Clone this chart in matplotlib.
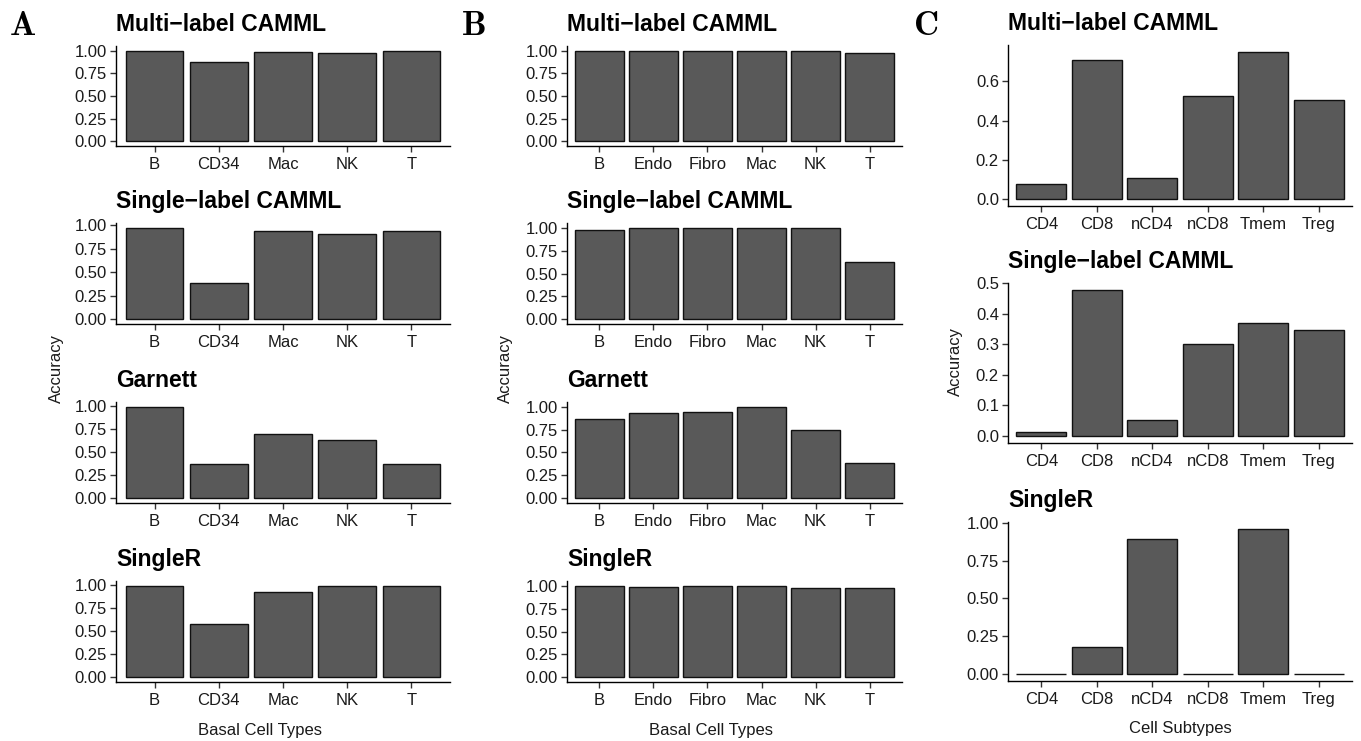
import matplotlib
matplotlib.use("Agg")
import matplotlib.pyplot as plt

# ---------------- data ----------------
cats_A = ["B", "CD34", "Mac", "NK", "T"]
A_multi = [1.00, 0.877, 0.989, 0.978, 0.993]
A_single = [0.975, 0.39, 0.943, 0.905, 0.940]
A_garnett = [0.995, 0.371, 0.698, 0.629, 0.378]
A_singler = [0.997, 0.575, 0.924, 0.996, 0.989]

cats_B = ["B", "Endo", "Fibro", "Mac", "NK", "T"]
B_multi = [1.00, 1.00, 1.00, 1.00, 1.00, 0.975]
B_single = [0.975, 1.00, 1.00, 0.993, 1.00, 0.624]
B_garnett = [0.869, 0.934, 0.938, 1.00, 0.748, 0.391]
B_singler = [0.996, 0.985, 1.00, 1.00, 0.978, 0.974]

cats_C = ["CD4", "CD8", "nCD4", "nCD8", "Tmem", "Treg"]
C_multi = [0.074, 0.711, 0.106, 0.525, 0.749, 0.507]
C_single = [0.013, 0.477, 0.052, 0.302, 0.369, 0.348]
C_singler = [0.0, 0.179, 0.892, 0.0, 0.960, 0.0]

titles_AB = ["Multi\u2212label CAMML", "Single\u2212label CAMML", "Garnett", "SingleR"]
titles_C = ["Multi\u2212label CAMML", "Single\u2212label CAMML", "SingleR"]

# ---------------- layout ----------------
W, H = 1361, 741
plt.rcParams['font.family'] = ['Liberation Sans', 'DejaVu Sans']
plt.rcParams['mathtext.fontset'] = 'cm'
fig = plt.figure(figsize=(W / 100, H / 100), dpi=100)

def add_ax(left, right, top, bottom):
    return fig.add_axes([left / W, 1 - bottom / H, (right - left) / W, (bottom - top) / H])

BAR = "#595959"
TXT = "#1a1a1a"

def draw(ax, cats, vals, title, yticks=None, fmt="{:.2f}"):
    x = list(range(len(cats)))
    ax.bar(x, vals, width=0.9, color=BAR, edgecolor="#111111", linewidth=1.0)
    ax.set_xlim(-0.6, len(cats) - 1 + 0.6)
    ymax = max(vals)
    ax.set_ylim(-0.05 * ymax, 1.05 * ymax)
    ax.set_xticks(x)
    ax.set_xticklabels(cats)
    if yticks is not None:
        ax.set_yticks(yticks)
        ax.set_yticklabels([fmt.format(t) for t in yticks])
    for s in ["top", "right"]:
        ax.spines[s].set_visible(False)
    for s in ["left", "bottom"]:
        ax.spines[s].set_linewidth(1.0)
        ax.spines[s].set_color("black")
    ax.tick_params(axis="both", length=4, width=1.0, color="#333333",
                   labelsize=12, labelcolor=TXT)
    ax.tick_params(axis="x", pad=4)
    ax.tick_params(axis="y", pad=2.5)
    ax.set_title(title, loc="left", fontsize=16.5, fontweight="bold", pad=11)

yt = [0.0, 0.25, 0.5, 0.75, 1.0]
rows_AB = [(46, 146), (223, 324), (402, 503), (581, 682)]

for (top, bot), vals, t in zip(rows_AB, [A_multi, A_single, A_garnett, A_singler], titles_AB):
    ax = add_ax(116, 450, top, bot)
    draw(ax, cats_A, vals, t, yt)

for (top, bot), vals, t in zip(rows_AB, [B_multi, B_single, B_garnett, B_singler], titles_AB):
    ax = add_ax(567, 902, top, bot)
    draw(ax, cats_B, vals, t, yt)

rows_C = [(45, 206), (283, 443), (522, 681)]
ax = add_ax(1008, 1352, *rows_C[0])
draw(ax, cats_C, C_multi, titles_C[0], [0.0, 0.2, 0.4, 0.6], "{:.1f}")
ax = add_ax(1008, 1352, *rows_C[1])
draw(ax, cats_C, C_single, titles_C[1], [0.0, 0.1, 0.2, 0.3, 0.4, 0.5], "{:.1f}")
ax = add_ax(1008, 1352, *rows_C[2])
draw(ax, cats_C, C_singler, titles_C[2], yt)

# axis labels
for xpix, ypix in [(56, 369), (505, 369), (955, 362)]:
    fig.text(xpix / W, 1 - ypix / H, "Accuracy", rotation=90, ha="center", va="center",
             fontsize=12, color=TXT)
fig.text(260 / W, 1 - 730 / H, "Basal Cell Types", ha="center", va="center", fontsize=12, color=TXT)
fig.text(711 / W, 1 - 730 / H, "Basal Cell Types", ha="center", va="center", fontsize=12, color=TXT)
fig.text(1180 / W, 1 - 729 / H, "Cell Subtypes", ha="center", va="center", fontsize=12, color=TXT)

# panel letters
for lx, letter in [(9, "A"), (461, "B"), (913, "C")]:
    fig.text(lx / W, 1 - 35 / H, r"$\mathbf{%s}$" % letter, ha="left", va="baseline",
             fontsize=25, color="black")

fig.savefig("out.png", dpi=100)
